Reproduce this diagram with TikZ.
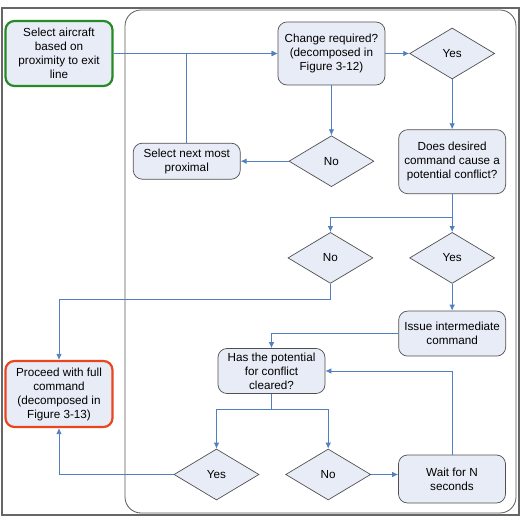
\documentclass[tikz,border=0pt]{standalone}
\usepackage{fontspec}
\setmainfont{Liberation Sans}
\usepackage{tikz}
\usetikzlibrary{shapes.geometric, arrows.meta, positioning, calc}
\definecolor{boxfill}{HTML}{E8ECF6}
\definecolor{boxline}{HTML}{505050}
\definecolor{flowblue}{HTML}{5080C0}
\definecolor{startgreen}{HTML}{268A26}
\definecolor{endred}{HTML}{E8461E}
\tikzstyle{activity} = [rectangle, rounded corners=9pt, minimum width=107pt, minimum height=45pt, text centered, align=center, inner sep=1pt, draw=boxline, fill=boxfill, line width=0.7pt]
\tikzstyle{decision} = [diamond, minimum width=85pt, minimum height=51pt, inner sep=0pt, text centered, draw=boxline, fill=boxfill, line width=0.7pt]
\tikzstyle{startbox} = [activity, draw=startgreen, line width=2.2pt, minimum height=65pt]
\tikzstyle{endbox} = [activity, draw=endred, line width=2.2pt, minimum height=66pt]
\tikzstyle{arrow} = [flowblue, line width=0.8pt, -{Latex[length=6pt,width=5.5pt]}]

\begin{document}
\begin{tikzpicture}[x=1pt, y=-1pt, every node/.style={font=\fontsize{11.7}{14}\selectfont}]
    \useasboundingbox (0,0) rectangle (522,518);
    % Frames
    \draw [gray!80!black, line width=1.2pt] (2,8) rectangle (519,515);
    \draw [gray!70!black, line width=0.8pt, rounded corners=16pt] (125,10) rectangle (516,513);

    % Start and end
    \node (aircraft) [startbox] at (59,53.5) {Select aircraft\\based on\\proximity to exit\\line};
    \node (proceed) [endbox] at (59,394) {Proceed with full\\command\\(decomposed in\\Figure 3-13)};

    % Upper loop
    \node (change) [activity, minimum height=63pt, right=164pt of aircraft] {Change required?\\(decomposed in\\Figure 3-12)};
    \node (yesA) [decision, right=24pt of change] {Yes};
    \node (noA) [decision, below=50pt of change] {No};
    \node (nextprox) [activity, minimum height=36pt, left=48pt of noA] {Select next most\\proximal};
    \node (conflict) [activity, minimum height=64pt, below=50pt of yesA] {Does desired\\command cause a\\potential conflict?};

    % Conflict check
    \node (yesB) [decision, below=38pt of conflict] {Yes};
    \node (noB) [decision, left=36pt of yesB] {No};
    \node (issue) [activity, below=27pt of yesB] {Issue intermediate\\command};
    \node (cleared) [activity] at (271.5,371) {Has the potential\\for conflict\\cleared?};

    % Lower loop
    \node (yesC) [decision] at (216.5,474.5) {Yes};
    \node (noC) [decision, right=26pt of yesC] {No};
    \node (wait) [activity, minimum height=48pt] at (452,479) {Wait for N\\seconds};

    \coordinate (splitA) at ($(conflict.south)+(0,23)$);
    \coordinate (splitB) at ($(cleared.south)+(0,16)$);

    % Arrows
    \draw [arrow] (aircraft) -- (change);
    \draw [arrow] (nextprox.north) |- (change.west);
    \draw [arrow] (change) -- (yesA);
    \draw [arrow] (yesA) -- (conflict);
    \draw [arrow] (change) -- (noA);
    \draw [arrow] (noA) -- (nextprox);
    \draw [arrow] (conflict.south) -- (splitA) -| (noB.north);
    \draw [arrow] (splitA) -- (yesB);
    \draw [arrow] (noB.south) -- ++(0,16) -| (proceed.north);
    \draw [arrow] (yesB) -- (issue);
    \draw [arrow] (issue.west) -| (cleared.north);
    \draw [arrow] (cleared.south) -- (splitB) -| (yesC.north);
    \draw [arrow] (splitB) -| (noC.north);
    \draw [arrow] (yesC.west) -| (proceed.south);
    \draw [arrow] (noC.east) -- (noC.east -| wait.west);
    \draw [arrow] (wait.north) |- (cleared.east);
\end{tikzpicture}
\end{document}
